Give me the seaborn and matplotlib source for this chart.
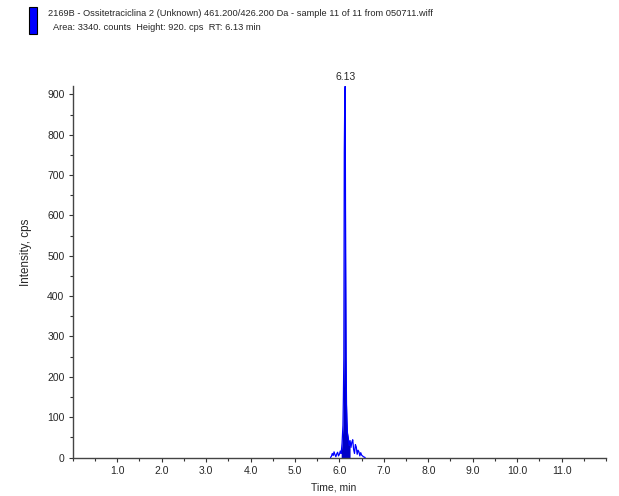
import matplotlib
matplotlib.use("Agg")
import matplotlib.pyplot as plt
from matplotlib.patches import Rectangle
from matplotlib.ticker import MultipleLocator, FixedLocator, FixedFormatter
import seaborn as sns
import pandas as pd

# Extracted ion chromatogram, 461.200/426.200 Da
time_min = [5.80, 5.82, 5.84, 5.86, 5.88, 5.90, 5.92, 5.94, 5.96, 5.98,
            6.00, 6.02, 6.04, 6.06, 6.08, 6.09, 6.10, 6.11, 6.12, 6.13,
            6.14, 6.15, 6.16, 6.17, 6.18, 6.20, 6.22, 6.24, 6.26, 6.28,
            6.30, 6.32, 6.34, 6.36, 6.38, 6.40, 6.42, 6.44, 6.46, 6.48,
            6.50, 6.54, 6.58]
intensity_cps = [0, 3, 10, 5, 14, 7, 2, 9, 13, 4,
                 8, 16, 10, 35, 80, 148, 247, 757, 876, 920,
                 509, 250, 132, 90, 62, 48, 30, 42, 25, 38,
                 44, 20, 10, 32, 26, 8, 18, 14, 4, 12,
                 6, 2, 0]

# Integrated peak window
peak_start, peak_end = 6.04, 6.24
peak_rt = 6.13
peak_height = 920

x_tick_values = [1.0, 2.0, 3.0, 4.0, 5.0, 6.0, 7.0, 8.0, 9.0, 10.0, 11.0]
x_tick_labels = ["1.0", "2.0", "3.0", "4.0", "5.0", "6.0", "7.0", "8.0", "9.0", "10.0", "11.0"]
y_tick_values = [0, 100, 200, 300, 400, 500, 600, 700, 800, 900]

title_line1 = "2169B - Ossitetraciclina 2 (Unknown) 461.200/426.200 Da - sample 11 of 11 from 050711.wiff"
title_line2 = "Area: 3340. counts  Height: 920. cps  RT: 6.13 min"

sns.set_style("ticks")
narrow = ["Liberation Sans Narrow", "Liberation Sans", "DejaVu Sans"]
plt.rcParams["font.family"] = narrow

df = pd.DataFrame({"time": time_min, "intensity": intensity_cps})

fig = plt.figure(figsize=(6.19, 4.96), dpi=100)
ax = fig.add_axes([0.1176, 0.0776, 0.9614 - 0.1176 + 0.0176, 0.826 - 0.0776])

peak = df[(df["time"] >= peak_start) & (df["time"] <= peak_end)]
ax.fill_between(peak["time"], 0, peak["intensity"], color="#0000C8", lw=0, zorder=2)
sns.lineplot(data=df, x="time", y="intensity", ax=ax, color="#0000FF",
             lw=0.9, zorder=3, estimator=None, sort=False)

ax.annotate(f"{peak_rt:.2f}", xy=(peak_rt, peak_height), xytext=(0, 3),
            textcoords="offset points", ha="center", va="bottom", fontsize=7.5)

ax.set_xlim(0, 12)
ax.set_ylim(0, 920)
ax.xaxis.set_major_locator(FixedLocator(x_tick_values))
ax.xaxis.set_major_formatter(FixedFormatter(x_tick_labels))
ax.xaxis.set_minor_locator(MultipleLocator(0.5))
ax.yaxis.set_major_locator(FixedLocator(y_tick_values))
ax.yaxis.set_minor_locator(MultipleLocator(50))
ax.tick_params(axis="both", which="major", length=3, width=0.8, color="#333333",
               labelsize=7.5, pad=3)
ax.tick_params(axis="both", which="minor", length=2, width=0.8, color="#333333")

for side in ("top", "right"):
    ax.spines[side].set_visible(False)
for side in ("left", "bottom"):
    ax.spines[side].set_color("#444444")
    ax.spines[side].set_linewidth(1.0)

ax.set_xlabel("")
ax.set_ylabel("")
fig.text(334 / 619, 1 - 487 / 496, "Time, min", fontsize=7.5, ha="center", va="center")
fig.text(26 / 619, 1 - 252 / 496, "Intensity, cps", fontsize=8.4, rotation=90,
         ha="center", va="center", family=["Liberation Sans", "DejaVu Sans"])

# Header with trace colour swatch
fig.patches.append(Rectangle((29 / 619, 1 - 34 / 496), 8 / 619, 27 / 496,
                             transform=fig.transFigure, facecolor="#0000FF",
                             edgecolor="black", lw=0.8))
fig.text(48 / 619, 1 - 13 / 496, title_line1, fontsize=6.7, va="center", ha="left")
fig.text(53 / 619, 1 - 27 / 496, title_line2, fontsize=6.7, va="center", ha="left")

fig.savefig("out.png", dpi=100)
